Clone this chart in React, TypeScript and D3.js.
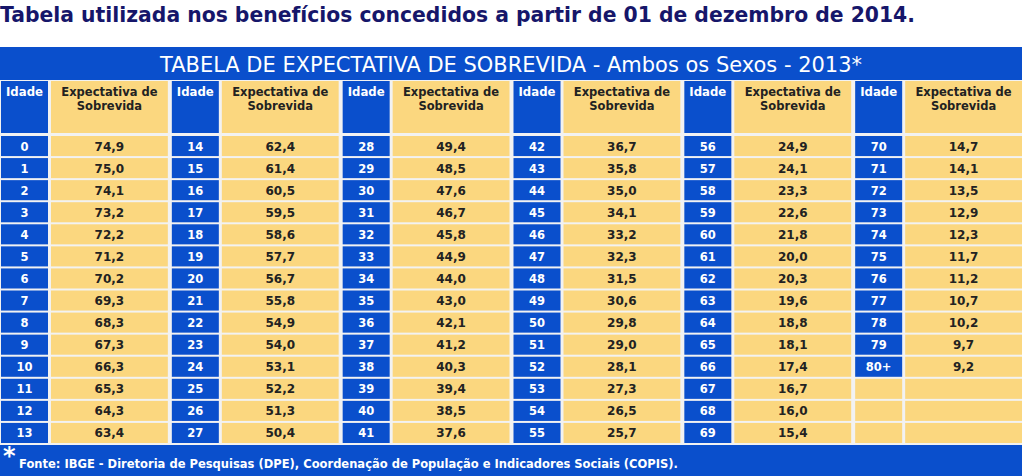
import React from "react";
import * as d3 from "d3";

const pageTitle = "Tabela utilizada nos benefícios concedidos a partir de 01 de dezembro de 2014.";
const tableTitle = "TABELA DE EXPECTATIVA DE SOBREVIDA - Ambos os Sexos - 2013*";
const headerAge = "Idade";
const headerValue = ["Expectativa de", "Sobrevida"];
const footnote = "Fonte: IBGE - Diretoria de Pesquisas (DPE), Coordenação de População e Indicadores Sociais (COPIS).";

const ages: string[] = [
  "0","1","2","3","4","5","6","7","8","9","10","11","12","13",
  "14","15","16","17","18","19","20","21","22","23","24","25","26","27",
  "28","29","30","31","32","33","34","35","36","37","38","39","40","41",
  "42","43","44","45","46","47","48","49","50","51","52","53","54","55",
  "56","57","58","59","60","61","62","63","64","65","66","67","68","69",
  "70","71","72","73","74","75","76","77","78","79","80+",
];
const survival: number[] = [
  74.9, 75.0, 74.1, 73.2, 72.2, 71.2, 70.2, 69.3, 68.3, 67.3, 66.3, 65.3, 64.3, 63.4,
  62.4, 61.4, 60.5, 59.5, 58.6, 57.7, 56.7, 55.8, 54.9, 54.0, 53.1, 52.2, 51.3, 50.4,
  49.4, 48.5, 47.6, 46.7, 45.8, 44.9, 44.0, 43.0, 42.1, 41.2, 40.3, 39.4, 38.5, 37.6,
  36.7, 35.8, 35.0, 34.1, 33.2, 32.3, 31.5, 30.6, 29.8, 29.0, 28.1, 27.3, 26.5, 25.7,
  24.9, 24.1, 23.3, 22.6, 21.8, 20.0, 20.3, 19.6, 18.8, 18.1, 17.4, 16.7, 16.0, 15.4,
  14.7, 14.1, 13.5, 12.9, 12.3, 11.7, 11.2, 10.7, 10.2, 9.7, 9.2,
];

const ROWS = 14;
const COLS = 6;
const BLUE = "#0a4fcc";
const YELLOW = "#fbd77f";
const NAVY = "#16166a";
const FONT = "'DejaVu Sans', Verdana, sans-serif";

export default function App() {
  const W = 1024, H = 476;
  const colX = d3.scaleBand<number>().domain(d3.range(COLS)).range([0, 1025]);
  const rowY = d3.scaleBand<number>().domain(d3.range(ROWS)).range([134.5, 443.5]);
  const fmt = (v: number) => d3.format(".1f")(v).replace(".", ",");
  const ageW = 48, gap = 3;
  const step = colX.bandwidth();
  const valW = step - ageW - 2 * gap;

  const cells: any[] = [];
  for (let c = 0; c < COLS; c++) {
    for (let r = 0; r < ROWS; r++) {
      const i = c * ROWS + r;
      cells.push({ c, r, age: ages[i], val: survival[i] });
    }
  }

  return (
    <svg width={W} height={H} style={{ position: "absolute", left: 0, top: 0, background: "#fff" }} fontFamily={FONT}>
      <text x={0} y={22} fontSize={21} fontWeight="bold" fill={NAVY} textLength={915} lengthAdjust="spacingAndGlyphs">{pageTitle}</text>
      <rect x={0} y={47} width={1022} height={H - 47} fill="#f2f2f2" />
      <rect x={0} y={47} width={1022} height={33} fill={BLUE} />
      <text x={511} y={72} fontSize={20.5} fill="#fff" textAnchor="middle" textLength={702} lengthAdjust="spacingAndGlyphs">{tableTitle}</text>
      {d3.range(COLS).map((c) => {
        const x0 = colX(c)!;
        return (
          <g key={"h" + c}>
            <rect x={x0 + 1} y={81} width={ageW - 1} height={52} fill={BLUE} />
            <text x={x0 + 6} y={96} fontSize={11.5} fontWeight="bold" fill="#fff" textLength={37} lengthAdjust="spacingAndGlyphs">{headerAge}</text>
            <rect x={x0 + ageW + gap} y={81} width={valW} height={52} fill={YELLOW} />
            {headerValue.map((t, k) => (
              <text key={k} x={x0 + ageW + gap + valW / 2} y={96 + k * 14} fontSize={11.5} fontWeight="bold" fill="#222" textAnchor="middle">{t}</text>
            ))}
          </g>
        );
      })}
      {cells.map((d) => {
        const x0 = colX(d.c)!;
        const y0 = rowY(d.r)!;
        const h = rowY.bandwidth() - 2;
        const empty = d.age === undefined;
        return (
          <g key={d.c + "-" + d.r}>
            <rect x={x0 + 1} y={y0 + 1.5} width={ageW - 1} height={h} fill={empty ? YELLOW : BLUE} />
            <rect x={x0 + ageW + gap} y={y0 + 1.5} width={valW} height={h} fill={YELLOW} />
            {!empty && (
              <>
                <text x={x0 + ageW / 2 + 0.5} y={y0 + 16} fontSize={11.5} fontWeight="bold" fill="#fff" textAnchor="middle">{d.age}</text>
                <text x={x0 + ageW + gap + valW / 2} y={y0 + 16} fontSize={12} fontWeight="bold" fill="#222" textAnchor="middle">{fmt(d.val)}</text>
              </>
            )}
          </g>
        );
      })}
      <rect x={0} y={445} width={1022} height={31} fill={BLUE} />
      <text x={3} y={464} fontSize={24} fontWeight="bold" fill="#fff">*</text>
      <text x={19} y={468} fontSize={11.5} fontWeight="bold" fill="#fff" textLength={659} lengthAdjust="spacingAndGlyphs">{footnote}</text>
    </svg>
  );
}
